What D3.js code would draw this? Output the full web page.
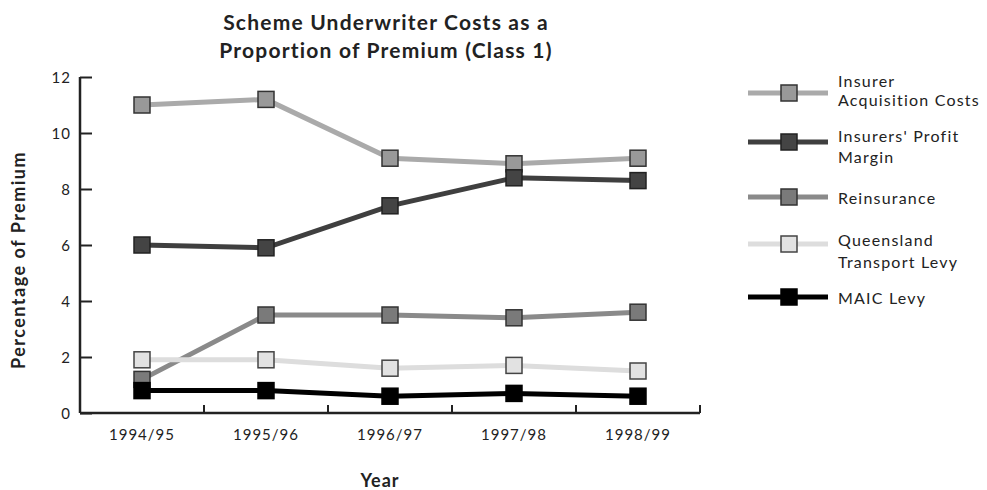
<!DOCTYPE html>
<html><head><meta charset="utf-8">
<script src="https://cdn.jsdelivr.net/npm/d3@7"></script>
<style>body{margin:0;background:#fff}svg{display:block}text{font-family:Lato,"Open Sans",sans-serif;fill:#222}</style>
</head><body>
<svg id="c" width="987" height="490"></svg>
<script>
const years = ["1994/95","1995/96","1996/97","1997/98","1998/99"];
const acquisition = [11.0, 11.2, 9.1, 8.9, 9.1];
const profit = [6.0, 5.9, 7.4, 8.4, 8.3];
const reinsurance = [1.2, 3.5, 3.5, 3.4, 3.6];
const qtl = [1.9, 1.9, 1.6, 1.7, 1.5];
const maic = [0.8, 0.8, 0.6, 0.7, 0.6];
const yTicks = [0, 2, 4, 6, 8, 10, 12];
const seriesNames = [["Insurer","Acquisition Costs"],["Insurers' Profit","Margin"],["Reinsurance"],["Queensland","Transport Levy"],["MAIC Levy"]];

const styles = [
  {line: "#aaaaaa", fill: "#999999", stroke: "#333"},
  {line: "#3f3f3f", fill: "#444444", stroke: "#222"},
  {line: "#8a8a8a", fill: "#7a7a7a", stroke: "#333"},
  {line: "#dddddd", fill: "#e2e2e2", stroke: "#444"},
  {line: "#000000", fill: "#000000", stroke: "#000"}
];
const seriesValues = [acquisition, profit, reinsurance, qtl, maic];
const series = seriesValues.map((v, i) => Object.assign({name: seriesNames[i], values: v}, styles[i]));

const svg = d3.select("#c");
const L = 80, R = 700, T = 77, B = 413;
const x = d3.scaleBand().domain(years).range([L, R]);
const y = d3.scaleLinear().domain([0, 12]).range([B, T]);

// title
const tStyle = s => s.style("font-weight","bold").style("font-size","21px").style("letter-spacing","1.2px").attr("text-anchor","middle");
svg.append("text").attr("x", 386).attr("y", 30).call(tStyle).text("Scheme Underwriter Costs as a");
svg.append("text").attr("x", 386).attr("y", 58).call(tStyle).text("Proportion of Premium (Class 1)");

// y axis
const yAxis = d3.axisRight(y).tickValues(yTicks).tickSize(12).tickFormat(d3.format("d"));
const gy = svg.append("g").attr("transform", `translate(${L},0)`).call(yAxis);
gy.select(".domain").attr("stroke","#222").attr("stroke-width",2.5).attr("d", `M0,${T}V${B}`);
gy.selectAll(".tick line").attr("stroke","#222").attr("stroke-width",2);
gy.selectAll(".tick text").attr("x", -9).attr("text-anchor","end").attr("dy","0.35em")
  .style("font-size","15px").style("letter-spacing","1px").style("font-family","Lato, sans-serif").attr("fill","#222");

// x axis
const xAxis = d3.axisTop(x).tickSize(0).tickFormat(d => d);
const gx = svg.append("g").attr("transform", `translate(0,${B})`).call(xAxis);
gx.select(".domain").attr("stroke","#222").attr("stroke-width",2.5).attr("d", `M${L},0H${R}`);
gx.selectAll(".tick text").attr("y", 27).attr("dy","0").style("font-size","15px").style("letter-spacing","1px")
  .style("font-family","Lato, sans-serif").attr("fill","#222");
const bounds = years.map(d => x(d) + x.bandwidth());
gx.selectAll(".bt").data(bounds).join("line").attr("class","bt")
  .attr("x1", d=>d).attr("x2", d=>d).attr("y1", 0).attr("y2", -8)
  .attr("stroke","#222").attr("stroke-width",2);

// axis titles
svg.append("text").attr("transform","translate(25,260) rotate(-90)").attr("text-anchor","middle")
  .style("font-weight","bold").style("font-size","18px").style("letter-spacing","1.5px").text("Percentage of Premium");
svg.append("text").attr("x", 380).attr("y", 487).attr("text-anchor","middle")
  .style("font-weight","bold").style("font-size","18px").style("letter-spacing","1px").text("Year");

// lines
const line = d3.line().x((d,i)=> x(years[i]) + x.bandwidth()/2).y(d => y(d));
const ms = 16;
series.forEach(s => {
  svg.append("path").datum(s.values).attr("d", line).attr("fill","none")
    .attr("stroke", s.line).attr("stroke-width", 5);
});
series.forEach(s => {
  svg.selectAll(null).data(s.values).join("rect")
    .attr("x", (d,i)=> x(years[i]) + x.bandwidth()/2 - ms/2)
    .attr("y", d => y(d) - ms/2).attr("width", ms).attr("height", ms)
    .attr("fill", s.fill).attr("stroke", s.stroke).attr("stroke-width", 1.5);
});

// legend
const legY = [93, 142, 197, 244, 297];
const legText = [[81, 100], [136, 157], [198], [240, 262], [298]];
series.forEach((s, i) => {
  svg.append("line").attr("x1", 748).attr("x2", 828).attr("y1",legY[i]).attr("y2",legY[i])
    .attr("stroke", s.line).attr("stroke-width", 5);
  svg.append("rect").attr("x", 789 - ms/2).attr("y", legY[i] - ms/2).attr("width", ms).attr("height", ms)
    .attr("fill", s.fill).attr("stroke", s.stroke).attr("stroke-width", 1.5);
  s.name.forEach((t, j) => {
    svg.append("text").attr("x", 838).attr("y", legText[i][j]).attr("dy","0.35em")
      .style("font-size","16px").style("letter-spacing","1.2px").text(t);
  });
});
</script>
</body></html>
